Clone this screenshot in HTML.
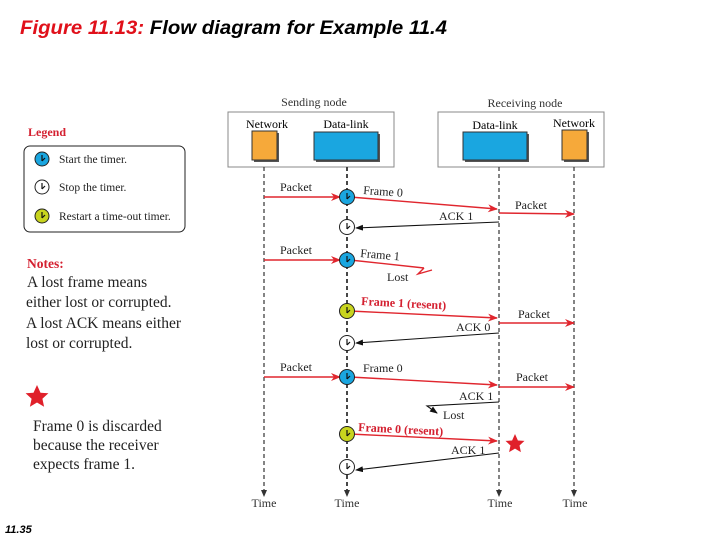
<!DOCTYPE html>
<html><head><meta charset="utf-8"><style>
html,body{margin:0;padding:0;background:#fff;}
svg{display:block}
.s{font-family:"Liberation Serif",serif;}
</style></head><body>
<svg width="720" height="540" viewBox="0 0 720 540" xmlns="http://www.w3.org/2000/svg">
<defs>
<marker id="ar" markerWidth="10" markerHeight="8" refX="9" refY="4" orient="auto" markerUnits="userSpaceOnUse"><path d="M0,0 L10,4 L0,8 L3,4 Z" fill="#e0262e"/></marker>
<marker id="ab" markerWidth="8" markerHeight="6" refX="7" refY="3" orient="auto" markerUnits="userSpaceOnUse"><path d="M0,0 L8,3 L0,6 Z" fill="#111"/></marker>
<g id="clk"><line x1="0" y1="-4" x2="0" y2="2" stroke="#111" stroke-width="1.2"/><line x1="0" y1="2" x2="3" y2="-1" stroke="#111" stroke-width="1.2"/></g>
</defs>
<text x="20" y="34" font-family="Liberation Sans,sans-serif" font-style="italic" font-weight="bold" font-size="19" textLength="427" lengthAdjust="spacingAndGlyphs"><tspan fill="#e0101a">Figure 11.13:</tspan><tspan fill="#000">  Flow diagram for Example 11.4</tspan></text>
<text x="5" y="533" font-family="Liberation Sans,sans-serif" font-style="italic" font-weight="bold" font-size="11">11.35</text>

<g class="s" font-size="12">
<text x="314" y="106" text-anchor="middle" fill="#333">Sending node</text>
<text x="525" y="107" text-anchor="middle" fill="#333">Receiving node</text>
<rect x="228" y="112" width="166" height="55" fill="#fff" stroke="#888"/>
<rect x="438" y="112" width="166" height="55" fill="#fff" stroke="#888"/>
<text x="267" y="128" text-anchor="middle">Network</text>
<text x="346" y="128" text-anchor="middle">Data-link</text>
<text x="495" y="129" text-anchor="middle">Data-link</text>
<text x="574" y="127" text-anchor="middle">Network</text>
<rect x="254" y="133" width="25" height="29" fill="#555"/><rect x="252" y="131" width="25" height="29" fill="#f6a93a" stroke="#333"/>
<rect x="316" y="134" width="64" height="28" fill="#555"/><rect x="314" y="132" width="64" height="28" fill="#1aa6e0" stroke="#333"/>
<rect x="465" y="134" width="64" height="28" fill="#555"/><rect x="463" y="132" width="64" height="28" fill="#1aa6e0" stroke="#333"/>
<rect x="564" y="132" width="25" height="30" fill="#555"/><rect x="562" y="130" width="25" height="30" fill="#f6a93a" stroke="#333"/>
</g>

<g stroke-dasharray="4,3" stroke="#333" stroke-width="1.2">
<line x1="264" y1="167" x2="264" y2="492"/><line x1="347" y1="167" x2="347" y2="492" stroke-width="1.8"/>
<line x1="499" y1="167" x2="499" y2="492"/><line x1="574" y1="167" x2="574" y2="492"/>
</g>
<g fill="#333"><path d="M261,490 L264,497 L267,490Z"/><path d="M344,490 L347,497 L350,490Z"/><path d="M496,490 L499,497 L502,490Z"/><path d="M571,490 L574,497 L577,490Z"/></g>
<g class="s" font-size="12" fill="#333" text-anchor="middle">
<text x="264" y="507">Time</text><text x="347" y="507">Time</text><text x="500" y="507">Time</text><text x="575" y="507">Time</text>
</g>

<g stroke="#e0262e" stroke-width="1.4" fill="none">
<line x1="264" y1="197" x2="340" y2="197" marker-end="url(#ar)"/>
<line x1="350" y1="197" x2="497" y2="209" marker-end="url(#ar)"/>
<line x1="499" y1="213" x2="574" y2="214" marker-end="url(#ar)"/>
<line x1="264" y1="260" x2="340" y2="260" marker-end="url(#ar)"/>
<line x1="350" y1="260" x2="424" y2="268"/>
<path d="M424,268 L418,274 L432,270" />
<line x1="350" y1="311" x2="497" y2="318" marker-end="url(#ar)"/>
<line x1="499" y1="323" x2="574" y2="323" marker-end="url(#ar)"/>
<line x1="264" y1="377" x2="340" y2="377" marker-end="url(#ar)"/>
<line x1="350" y1="377" x2="497" y2="385" marker-end="url(#ar)"/>
<line x1="499" y1="387" x2="574" y2="387" marker-end="url(#ar)"/>
<line x1="350" y1="434" x2="497" y2="441" marker-end="url(#ar)"/>
</g>
<g stroke="#111" stroke-width="1.1" fill="none">
<line x1="499" y1="222" x2="356" y2="228" marker-end="url(#ab)"/>
<line x1="499" y1="333" x2="356" y2="343" marker-end="url(#ab)"/>
<path d="M499,402 L427,406 L437,413" marker-end="url(#ab)"/>
<line x1="499" y1="453" x2="356" y2="470" marker-end="url(#ab)"/>
</g>

<g class="s" font-size="12" fill="#222">
<text x="280" y="191">Packet</text>
<text x="363" y="194" transform="rotate(4 363 194)">Frame 0</text>
<text x="515" y="209">Packet</text>
<text x="439" y="220">ACK 1</text>
<text x="280" y="254">Packet</text>
<text x="360" y="257" transform="rotate(5 360 257)">Frame 1</text>
<text x="387" y="281">Lost</text>
<text x="518" y="318">Packet</text>
<text x="456" y="331">ACK 0</text>
<text x="280" y="371">Packet</text>
<text x="363" y="372">Frame 0</text>
<text x="516" y="381">Packet</text>
<text x="459" y="400">ACK 1</text>
<text x="443" y="419">Lost</text>
<text x="451" y="454">ACK 1</text>
</g>
<g class="s" font-size="12" fill="#d42030" font-weight="bold">
<text x="361" y="305" transform="rotate(3 361 305)">Frame 1 (resent)</text>
<text x="358" y="431" transform="rotate(3 358 431)">Frame 0 (resent)</text>
</g>
<path transform="translate(515,444)" d="M0,-10 L2.9,-3.5 L9.5,-3.1 L4.5,1.5 L5.9,8.1 L0,4.6 L-5.9,8.1 L-4.5,1.5 L-9.5,-3.1 L-2.9,-3.5Z" fill="#e0202a"/>

<g stroke="#222" stroke-width="1">
<circle cx="347" cy="197" r="7.5" fill="#1aa6e0"/><circle cx="347" cy="227" r="7.5" fill="#fff"/>
<circle cx="347" cy="260" r="7.5" fill="#1aa6e0"/><circle cx="347" cy="311" r="7.5" fill="#c8d41e"/>
<circle cx="347" cy="343" r="7.5" fill="#fff"/><circle cx="347" cy="377" r="7.5" fill="#1aa6e0"/>
<circle cx="347" cy="434" r="7.5" fill="#c8d41e"/><circle cx="347" cy="467" r="7.5" fill="#fff"/>
</g>
<use href="#clk" x="347" y="197"/><use href="#clk" x="347" y="227"/><use href="#clk" x="347" y="260"/><use href="#clk" x="347" y="311"/>
<use href="#clk" x="347" y="343"/><use href="#clk" x="347" y="377"/><use href="#clk" x="347" y="434"/><use href="#clk" x="347" y="467"/>

<g class="s">
<text x="28" y="136" font-size="12" font-weight="bold" fill="#d42030">Legend</text>
<rect x="24" y="146" width="161" height="86" rx="6" fill="#fff" stroke="#222"/>
<g stroke="#222" stroke-width="1">
<circle cx="42" cy="159" r="7" fill="#1aa6e0"/><circle cx="42" cy="187" r="7" fill="#fff"/><circle cx="42" cy="216" r="7" fill="#c8d41e"/>
</g>
<use href="#clk" x="42" y="159"/><use href="#clk" x="42" y="187"/><use href="#clk" x="42" y="216"/>
<g font-size="11.5" fill="#222">
<text x="59" y="163">Start the timer.</text>
<text x="59" y="191">Stop the timer.</text>
<text x="59" y="220">Restart a time-out timer.</text>
</g>
<text x="27" y="268" font-size="13.5" font-weight="bold" fill="#d42030">Notes:</text>
<g font-size="15.5" fill="#222">
<text x="27" y="287">A lost frame means</text>
<text x="26" y="307">either lost or corrupted.</text>
<text x="26" y="328">A lost ACK means either</text>
<text x="26" y="348">lost or corrupted.</text>
<text x="33" y="431">Frame 0 is discarded</text>
<text x="33" y="450">because the receiver</text>
<text x="33" y="469">expects frame 1.</text>
</g>
<path transform="translate(37,397)" d="M0,-12 L3.5,-4.2 L11.4,-3.7 L5.4,1.8 L7.1,9.7 L0,5.5 L-7.1,9.7 L-5.4,1.8 L-11.4,-3.7 L-3.5,-4.2Z" fill="#e0202a"/>
</g>
</svg>
</body></html>
